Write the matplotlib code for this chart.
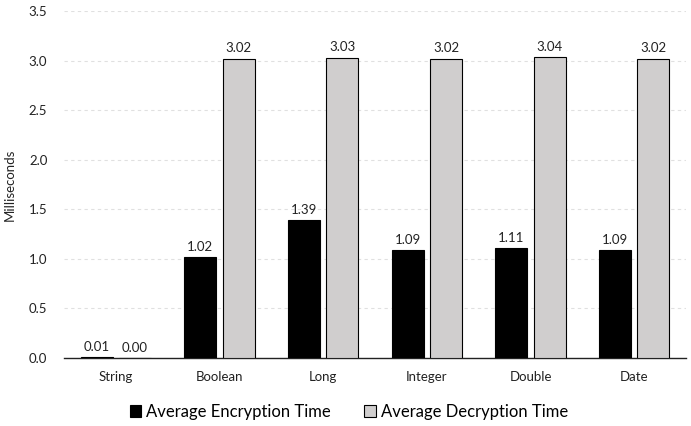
import numpy as np
import matplotlib
matplotlib.use("Agg")
import matplotlib.pyplot as plt

# data types and timing results (ms)
categories = ["String", "Boolean", "Long", "Integer", "Double", "Date"]
encryption_ms = [0.01, 1.02, 1.39, 1.09, 1.11, 1.09]
decryption_ms = [0.00, 3.02, 3.03, 3.02, 3.04, 3.02]

plt.rcParams['font.family'] = ['Lato', 'DejaVu Sans']

fig = plt.figure(figsize=(6.91, 4.26), dpi=100)
ax = fig.add_axes([0.0926, 0.1596, 0.9002, 0.8144])

x = np.arange(len(categories))
width = 0.31
offset = 0.185

enc = ax.bar(x - offset, encryption_ms, width, color="black", edgecolor="black",
             linewidth=0.8, label="Average Encryption Time", zorder=3)
dec = ax.bar(x + offset, decryption_ms, width, color="#d0cece", edgecolor="black",
             linewidth=0.8, label="Average Decryption Time", zorder=3)

for bars in (enc, dec):
    ax.bar_label(bars, fmt="%.2f", padding=3, fontsize=9.5, color="#222222")

ax.set_xlim(-0.5, len(categories) - 0.5)
ax.set_ylim(0, 3.5)
ax.set_yticks(np.arange(0, 3.51, 0.5))
ax.yaxis.set_major_formatter(matplotlib.ticker.FormatStrFormatter("%.1f"))
ax.set_xticks(x)
ax.set_xticklabels(categories)
ax.tick_params(axis="both", length=0, labelsize=9.5, colors="#222222")
ax.tick_params(axis="x", pad=9)
ax.tick_params(axis="y", pad=12)

ax.grid(axis="y", linestyle=(0, (3, 3)), color="#e0e0e0", linewidth=0.8, zorder=0)
for side in ("left", "right", "top"):
    ax.spines[side].set_visible(False)
ax.spines["bottom"].set_color("#222222")
ax.spines["bottom"].set_linewidth(1.0)

ax.set_ylabel("Milliseconds", fontsize=9.5, color="#222222", labelpad=9)

fig.legend(handles=[enc, dec], loc="center", bbox_to_anchor=(0.505, 0.034), ncol=2,
           frameon=False, fontsize=12, handlelength=0.7, handleheight=0.7,
           handletextpad=0.3, columnspacing=2.0)

fig.savefig("out.png", dpi=100)
